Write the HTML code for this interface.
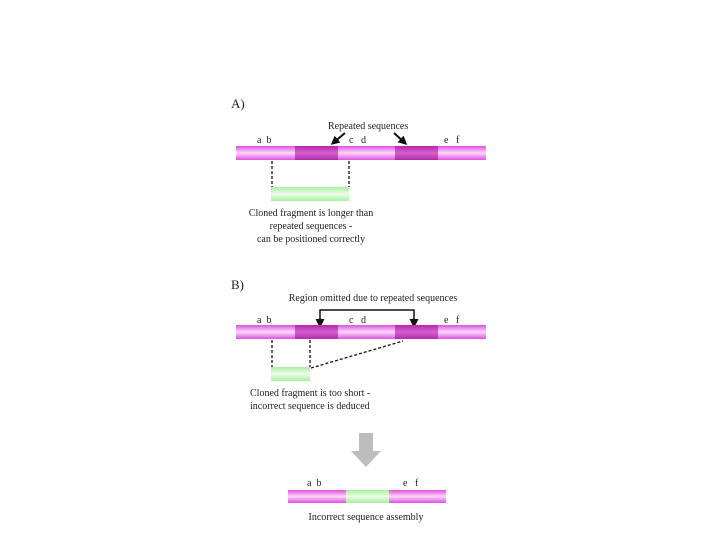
<!DOCTYPE html>
<html><head><style>body{margin:0;background:#fff}svg{display:block}text{font-family:"Liberation Serif",serif;font-size:10px;fill:#222}</style></head><body>
<svg width="720" height="540" xmlns="http://www.w3.org/2000/svg">
<defs>
<linearGradient id="m" x1="0" y1="0" x2="0" y2="1"><stop offset="0" stop-color="#e050e0"/><stop offset="0.5" stop-color="#fbd8fb"/><stop offset="1" stop-color="#e050e0"/></linearGradient>
<linearGradient id="d" x1="0" y1="0" x2="0" y2="1"><stop offset="0" stop-color="#b02aa8"/><stop offset="0.5" stop-color="#d860d0"/><stop offset="1" stop-color="#b02aa8"/></linearGradient>
<linearGradient id="g" x1="0" y1="0" x2="0" y2="1"><stop offset="0" stop-color="#a8f0a0"/><stop offset="0.5" stop-color="#eefcec"/><stop offset="1" stop-color="#a8f0a0"/></linearGradient>
<marker id="ah" markerWidth="9" markerHeight="9" refX="6" refY="4.5" orient="auto" markerUnits="userSpaceOnUse"><path d="M0,0L9,4.5L0,9z" fill="#111"/></marker>
</defs>
<text x="231" y="108" style="font-size:13px">A)</text>
<text x="328" y="129">Repeated sequences</text>
<line x1="345" y1="133" x2="333" y2="143" stroke="#111" stroke-width="2" marker-end="url(#ah)"/>
<line x1="394" y1="133" x2="405" y2="143" stroke="#111" stroke-width="2" marker-end="url(#ah)"/>
<text x="257" y="143">a  &#160;b</text><text x="349" y="143">c  &#160; d</text><text x="444" y="143">e  &#160; f</text>
<rect x="236" y="146" width="250" height="14" fill="url(#m)"/>
<rect x="295" y="146" width="43" height="14" fill="url(#d)"/>
<rect x="395" y="146" width="43" height="14" fill="url(#d)"/>
<g stroke="#111" stroke-width="1.3" stroke-dasharray="3,2"><line x1="272" y1="161" x2="272" y2="187"/><line x1="349" y1="161" x2="349" y2="187"/></g>
<rect x="271" y="187" width="78" height="14" fill="url(#g)"/>
<text x="311" y="216" text-anchor="middle">Cloned fragment is longer than</text>
<text x="311" y="229" text-anchor="middle">repeated sequences -</text>
<text x="311" y="242" text-anchor="middle">can be positioned correctly</text>

<text x="231" y="289" style="font-size:13px">B)</text>
<text x="373" y="301" text-anchor="middle">Region omitted due to repeated sequences</text>
<path d="M320,326 V310 H414 V326" fill="none" stroke="#111" stroke-width="1.5"/>
<line x1="320" y1="318" x2="320" y2="325" stroke="#111" stroke-width="1.5" marker-end="url(#ah)"/>
<line x1="414" y1="318" x2="414" y2="325" stroke="#111" stroke-width="1.5" marker-end="url(#ah)"/>
<text x="257" y="323">a  &#160;b</text><text x="349" y="323">c  &#160; d</text><text x="444" y="323">e  &#160; f</text>
<rect x="236" y="325" width="250" height="14" fill="url(#m)"/>
<rect x="295" y="325" width="43" height="14" fill="url(#d)"/>
<rect x="395" y="325" width="43" height="14" fill="url(#d)"/>
<g stroke="#111" stroke-width="1.3" stroke-dasharray="3,2"><line x1="272" y1="340" x2="272" y2="367"/><line x1="310" y1="340" x2="310" y2="367"/><line x1="311" y1="368" x2="403" y2="341"/></g>
<rect x="271" y="367" width="39" height="14" fill="url(#g)"/>
<text x="250" y="396">Cloned fragment is too short -</text>
<text x="250" y="409">incorrect sequence is deduced</text>

<path d="M359,433 H373 V451 H381 L366,467 L351,451 H359 Z" fill="#bdbdbd"/>
<text x="307" y="486">a  &#160;b</text><text x="403" y="486">e  &#160; f</text>
<rect x="288" y="490" width="158" height="13" fill="url(#m)"/>
<rect x="346" y="490" width="43" height="13" fill="url(#g)"/>
<text x="366" y="520" text-anchor="middle">Incorrect sequence assembly</text>
</svg>
</body></html>
